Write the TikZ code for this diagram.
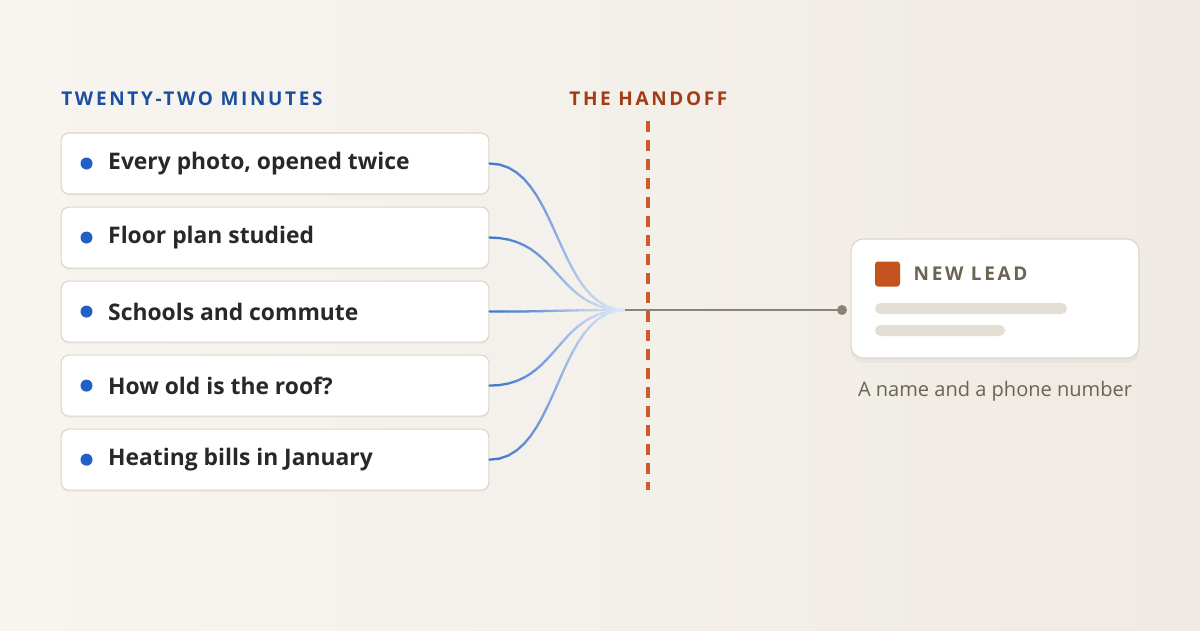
\documentclass[tikz,border=0pt]{standalone}
\usepackage{fontspec}
\setmainfont{Open Sans}
\newfontfamily\capsfont{Open Sans}[LetterSpace=14]
\usetikzlibrary{positioning,calc,shadows}
\definecolor{bgA}{HTML}{F8F5F1}
\definecolor{bgB}{HTML}{EFEAE3}
\definecolor{edge}{HTML}{DCD4C8}
\definecolor{ink}{HTML}{2A2826}
\definecolor{pin}{HTML}{2160C8}
\definecolor{head}{HTML}{1A4FA0}
\definecolor{hand}{HTML}{A33C12}
\definecolor{cut}{HTML}{CF5A2C}
\definecolor{wire}{HTML}{8A8377}
\definecolor{lead}{HTML}{C4531F}
\definecolor{muted}{HTML}{6B6354}
\definecolor{bar}{HTML}{E3DED4}
\tikzset{
  item/.style={draw=edge, line width=0.6pt, fill=white, rounded corners=0.16cm,
    minimum width=8.56cm, minimum height=1.22cm,
    drop shadow={opacity=0.05, shadow xshift=0pt, shadow yshift=-0.04cm}},
  dot/.style={circle, fill=pin, inner sep=0pt, minimum size=0.24cm},
  say/.style={font=\fontsize{13}{15}\selectfont\bfseries, text=ink, anchor=west, inner sep=0pt},
  tag/.style={font=\capsfont\fontsize{10.8}{12}\selectfont\bfseries, anchor=west, inner sep=0pt}
}
\begin{document}
\begin{tikzpicture}[x=0.02cm, y=-0.02cm]
\shade[left color=bgA, right color=bgB] (0,0) rectangle (1200,630);
\useasboundingbox (0,0) rectangle (1200,630);
% headers
\node[tag, text=head] (mins) at (61,99) {TWENTY-TWO MINUTES};
\node[tag, text=hand] (hoff) at (569,99) {THE HANDOFF};
% cut line
\coordinate (cutT) at (648,121);
\coordinate (cutB) at (648,490);
\draw[cut, line width=1.9pt, dash pattern=on 0.22cm off 0.16cm] (cutT) -- (cutB);
% items
\node[item] (i1) at (275,163.5) {};
\node[item, below=0.24cm of i1] (i2) {};
\node[item, below=0.24cm of i2] (i3) {};
\node[item, below=0.24cm of i3] (i4) {};
\node[item, below=0.24cm of i4] (i5) {};
\coordinate (hub) at (625,310);
\foreach \k/\txt in {1/Every photo\comma{} opened twice, 2/Floor plan studied,
    3/Schools and commute, 4/How old is the roof?, 5/Heating bills in January}{
  \node[dot] (d\k) at ([xshift=0.52cm]i\k.west) {};
  \node[say, right=0.3cm of d\k] (t\k) {\def\comma{,}\txt};
  \path (i\k.east) .. controls +(70,0) and ($(hub)+(-70,0)$) .. (hub)
    \foreach \i in {0,...,20}{ coordinate[pos=\i/20] (c\k-\i) };
  \foreach \i [evaluate=\i as \j using int(\i+1), evaluate=\i as \c using 85-3.6*\i] in {0,...,19}
    \draw[pin!\c!white, line width=1.3pt, line cap=round] (c\k-\i) -- (c\k-\j);
}
% card
\node[draw=edge, line width=0.6pt, fill=white, rounded corners=0.24cm,
  minimum width=5.76cm, minimum height=2.38cm,
  drop shadow={opacity=0.07, shadow xshift=0pt, shadow yshift=-0.1cm}] (card) at (995,298.5) {};
\coordinate (plug) at (842,310);
\draw[wire, line width=1.1pt] (hub) -- (plug);
\fill[wire] (plug) circle (5);
\node[fill=lead, rounded corners=0.06cm, minimum size=0.5cm, inner sep=0pt] (sq) at (887.5,274) {};
\node[tag, text=muted, right=0.26cm of sq] (new) {NEW LEAD};
\fill[bar, rounded corners=0.11cm] (875,303) rectangle (1067,314);
\fill[bar, rounded corners=0.11cm] (875,325) rectangle (1005,336);
\node[font=\fontsize{11.4}{13}\selectfont, text=muted, below=0.34cm of card] (cap) {A name and a phone number};
\end{tikzpicture}
\end{document}
